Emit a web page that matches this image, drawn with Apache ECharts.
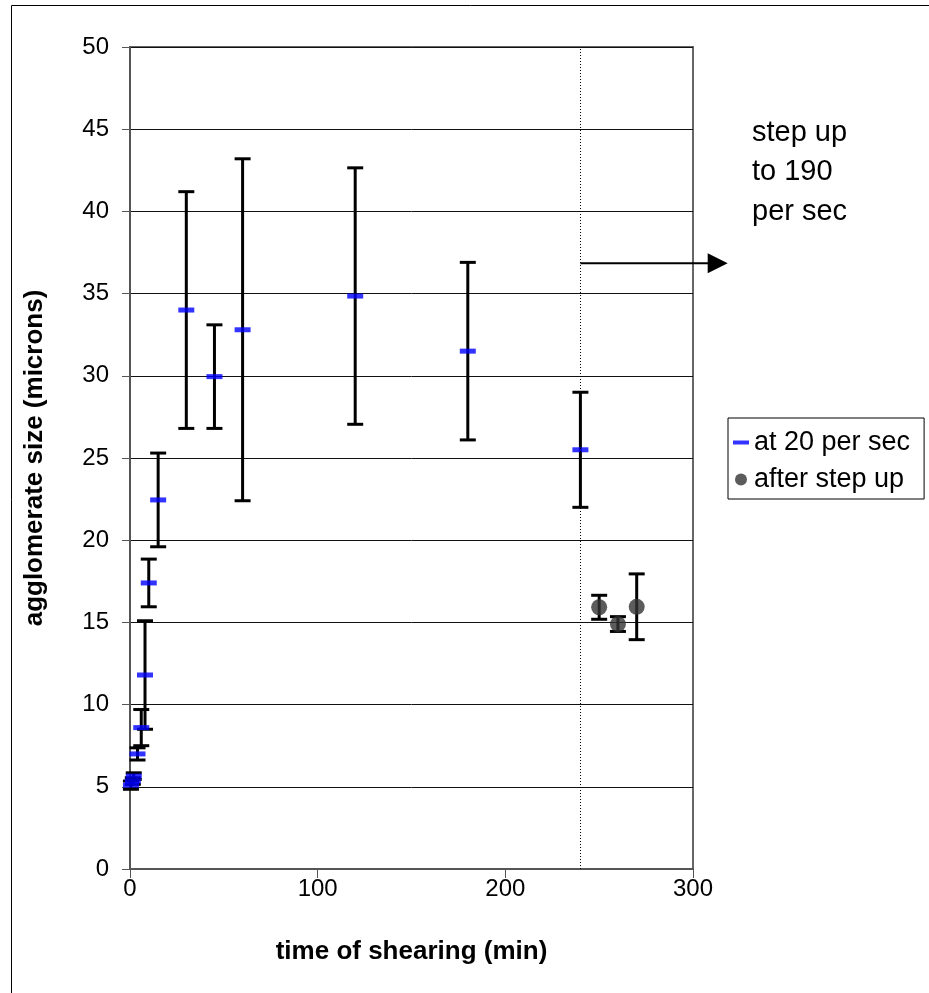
<!DOCTYPE html>
<html>
<head>
<meta charset="utf-8">
<script src="https://cdn.jsdelivr.net/npm/echarts@6/dist/echarts.min.js"></script>
<style>
html,body{margin:0;padding:0;background:#fff;}
#c{width:929px;height:993px;}
</style>
</head>
<body>
<div id="c"></div>
<script>
// ---- data ----
const timesA = [0.5, 1.5, 2, 4, 6, 8, 10, 15, 30, 45, 60, 120, 180, 240];
const meanA  = [5.1, 5.35, 5.65, 7.0, 8.6, 11.8, 17.4, 22.45, 34.0, 29.95, 32.8, 34.85, 31.5, 25.5];
const errA   = [0.25, 0.2, 0.2, 0.37, 1.1, 3.3, 1.45, 2.85, 7.2, 3.15, 10.4, 7.8, 5.4, 3.5];

const timesB = [250, 260, 270];
const meanB  = [15.92, 14.9, 15.95];
const errB   = [0.73, 0.45, 2.0];

const stepTime = 240;
const arrowFrom = [240, 36.85];
const arrowTo   = [318.5, 36.85];

const xTicks = [0, 100, 200, 300];
const yTicks = [0, 5, 10, 15, 20, 25, 30, 35, 40, 45, 50];

const nameA = 'at 20 per sec';
const nameB = 'after step up';
const annotation = 'step up\nto 190\nper sec';

// ---- build ----
const FONT = 'Arial, "Liberation Sans", sans-serif';
const errDataA = timesA.map((t, i) => [t, meanA[i] - errA[i], meanA[i] + errA[i]]);
const errDataB = timesB.map((t, i) => [t, meanB[i] - errB[i], meanB[i] + errB[i]]);

function renderErr(params, api) {
  const x = api.value(0), lo = api.value(1), hi = api.value(2);
  const pt = api.coord([x, hi]);
  const pb = api.coord([x, lo]);
  const hw = 8;
  const st = { stroke: '#000', lineWidth: 3 };
  return {
    type: 'group',
    children: [
      { type: 'line', shape: { x1: pt[0], y1: pt[1], x2: pb[0], y2: pb[1] }, style: st },
      { type: 'line', shape: { x1: pt[0] - hw, y1: pt[1], x2: pt[0] + hw, y2: pt[1] }, style: st },
      { type: 'line', shape: { x1: pb[0] - hw, y1: pb[1], x2: pb[0] + hw, y2: pb[1] }, style: st }
    ]
  };
}

function renderArrow(params, api) {
  const a = api.coord([api.value(0), api.value(1)]);
  const b = api.coord([api.value(2), api.value(1)]);
  const hl = 20, hh = 10;
  return {
    type: 'group',
    children: [
      { type: 'line', shape: { x1: a[0], y1: a[1], x2: b[0] - hl + 1, y2: b[1] }, style: { stroke: '#000', lineWidth: 2 } },
      { type: 'polygon', shape: { points: [[b[0], b[1]], [b[0] - hl, b[1] - hh], [b[0] - hl, b[1] + hh]] }, style: { fill: '#000' } }
    ]
  };
}

const dashIcon = 'path://M0,0h0.01v0.01h-0.01zM0,4h16v4h-16zM15.99,11.99h0.01v0.01h-0.01z';

const chart = echarts.init(document.getElementById('c'), null, { renderer: 'canvas' });
chart.setOption({
  animation: false,
  backgroundColor: '#fff',
  textStyle: { fontFamily: FONT },
  title: {
    text: annotation,
    left: 752, top: 113, padding: 0,
    textStyle: { fontFamily: FONT, fontSize: 29, fontWeight: 'normal', color: '#000', lineHeight: 39.5 }
  },
  legend: {
    orient: 'vertical',
    left: 728, top: 418,
    padding: [11, 14, 6, 5],
    itemWidth: 16, itemHeight: 12, itemGap: 10, itemTextGap: 4,
    borderColor: '#000', borderWidth: 1, borderRadius: 0,
    textStyle: { fontFamily: FONT, fontSize: 27, color: '#000', lineHeight: 24 },
    data: [
      { name: nameA, icon: dashIcon },
      { name: nameB, icon: 'circle' }
    ]
  },
  grid: {
    left: 130, right: 236, top: 47, bottom: 124,
    show: true, borderColor: '#666', borderWidth: 2, backgroundColor: 'transparent'
  },
  xAxis: {
    type: 'value', min: xTicks[0], max: xTicks[xTicks.length - 1], interval: 100,
    name: 'time of shearing (min)', nameLocation: 'middle', nameGap: 70,
    nameTextStyle: { fontFamily: FONT, fontSize: 26, fontWeight: 'bold', color: '#000' },
    axisLine: { show: true, onZero: false, lineStyle: { color: '#555', width: 2 } },
    axisTick: { show: true, inside: false, length: 9, lineStyle: { color: '#555', width: 1 } },
    axisLabel: { fontFamily: FONT, fontSize: 24, color: '#000', margin: 8 },
    splitLine: { show: false }
  },
  yAxis: {
    type: 'value', min: yTicks[0], max: yTicks[yTicks.length - 1], interval: 5,
    name: 'agglomerate size (microns)', nameLocation: 'middle', nameGap: 82, nameRotate: 90,
    nameTextStyle: { fontFamily: FONT, fontSize: 26, fontWeight: 'bold', color: '#000' },
    axisLine: { show: true, onZero: false, lineStyle: { color: '#555', width: 2 } },
    axisTick: { show: true, inside: false, length: 8, lineStyle: { color: '#555', width: 1 } },
    axisLabel: { fontFamily: FONT, fontSize: 24, color: '#000', margin: 21 },
    splitLine: { show: true, lineStyle: { color: '#111', width: 1 } }
  },
  graphic: [
    { type: 'rect', left: 9, top: 3, shape: { x: 0, y: 0, width: 940, height: 1000 }, style: { fill: 'none', stroke: '#000', lineWidth: 1 }, silent: true, z: -1 }
  ],
  series: [
    {
      type: 'custom', name: 'errA', renderItem: renderErr, data: errDataA,
      encode: { x: 0, y: [1, 2] }, z: 2,
      markLine: {
        silent: true, symbol: 'none', animation: false,
        label: { show: false },
        lineStyle: { type: [1, 2], color: '#000', width: 1 },
        data: [{ xAxis: stepTime }]
      }
    },
    {
      type: 'custom', name: 'errB', renderItem: renderErr, data: errDataB,
      encode: { x: 0, y: [1, 2] }, z: 2
    },
    {
      type: 'scatter', name: nameA,
      data: timesA.map((t, i) => [t, meanA[i]]),
      symbol: 'rect', symbolSize: [16, 5],
      itemStyle: { color: '#0000ff' }, z: 4
    },
    {
      type: 'scatter', name: nameB,
      data: timesB.map((t, i) => [t, meanB[i]]),
      symbol: 'circle', symbolSize: 16,
      itemStyle: { color: '#333333' }, z: 4
    },
    {
      type: 'custom', name: 'arrow', renderItem: renderArrow, clip: false,
      data: [[arrowFrom[0], arrowFrom[1], arrowTo[0]]],
      encode: { x: [0, 2], y: 1 }, z: 3
    }
  ]
});
</script>
</body>
</html>
